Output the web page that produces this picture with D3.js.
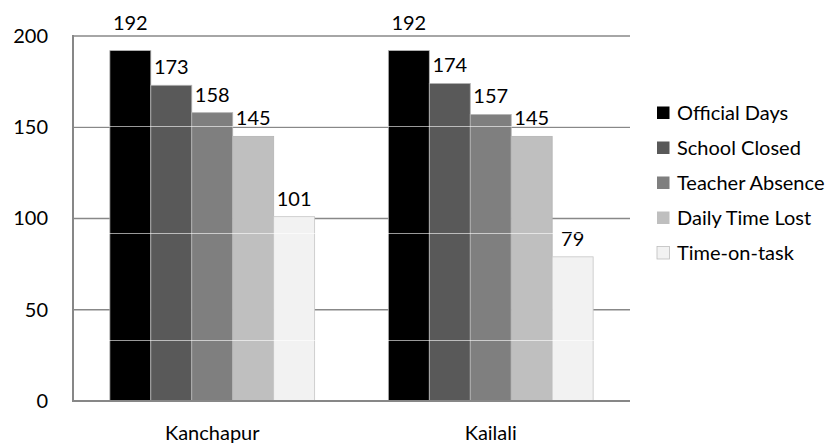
<!DOCTYPE html>
<html>
<head>
<meta charset="utf-8">
<script src="https://cdn.jsdelivr.net/npm/d3@7"></script>
<style>
  html, body { margin: 0; padding: 0; background: #fff; }
  svg { display: block; font-family: Lato, "Open Sans", sans-serif; }
</style>
</head>
<body>
<svg id="chart" width="829" height="444"></svg>
<script>
// Districts along the x axis
const districts = ["Kanchapur", "Kailali"];

// Series, in legend order
const seriesNames = ["Official Days", "School Closed", "Teacher Absence", "Daily Time Lost", "Time-on-task"];
const seriesColors = ["#000000", "#595959", "#7f7f7f", "#bfbfbf", "#f2f2f2"];

// Days per series, one value per district
const kanchapurDays = [192, 173, 158, 145, 101];
const kailaliDays   = [192, 174, 157, 145, 79];

// Value axis ticks
const yTicks = [0, 50, 100, 150, 200];

const districtValues = [kanchapurDays, kailaliDays];
const rows = districts.map((d, i) => ({
  district: d,
  values: seriesNames.map((s, j) => ({ series: s, idx: j, value: districtValues[i][j] }))
}));

const FONT = 20;
const svg = d3.select("#chart");
const plot = { left: 73, right: 630, top: 36, bottom: 401 };

const x0 = d3.scaleBand().domain(districts).range([plot.left, plot.right]).padding(0);
const x1 = d3.scaleBand().domain(seriesNames).range([0, x0.bandwidth()])
  .paddingInner(0).paddingOuter(0.9);
const y = d3.scaleLinear().domain([0, 200]).range([plot.bottom, plot.top]);
const color = d3.scaleOrdinal().domain(seriesNames).range(seriesColors);

// Horizontal gridlines
svg.append("g")
  .selectAll("line")
  .data(yTicks.filter(t => t > 0))
  .join("line")
  .attr("x1", plot.left).attr("x2", plot.right)
  .attr("y1", d => y(d)).attr("y2", d => y(d))
  .attr("stroke", "#888888").attr("stroke-width", 1.4);

// Y tick labels
const yAxis = d3.axisLeft(y).tickValues(yTicks).tickSize(0).tickPadding(25);
const yg = svg.append("g").attr("transform", `translate(${plot.left},0)`).call(yAxis);
yg.select(".domain").remove();
yg.selectAll("text")
  .attr("font-family", "Lato, 'Open Sans', sans-serif")
  .attr("font-size", FONT).attr("fill", "#000");

// Bars
const groups = svg.append("g")
  .selectAll("g")
  .data(rows)
  .join("g")
  .attr("transform", d => `translate(${x0(d.district)},0)`);

groups.selectAll("rect")
  .data(d => d.values)
  .join("rect")
  .attr("x", d => x1(d.series))
  .attr("y", d => y(d.value))
  .attr("width", x1.bandwidth())
  .attr("height", d => y(0) - y(d.value))
  .attr("fill", d => color(d.series))
  .attr("stroke", d => d.idx === 4 ? "#c6c6c6" : "#b4b4b4")
  .attr("stroke-width", 0.8);

// Faint light banding across the bars
const sheen = [150.7, 92.1, 33.4];
svg.append("g")
  .selectAll("line")
  .data(sheen)
  .join("line")
  .attr("x1", plot.left).attr("x2", plot.right)
  .attr("y1", d => Math.round(y(d)) + 0.5).attr("y2", d => Math.round(y(d)) + 0.5)
  .attr("stroke", "#ffffff").attr("stroke-opacity", 0.6).attr("stroke-width", 1);

// Axis lines
svg.append("line")
  .attr("x1", plot.left).attr("x2", plot.left)
  .attr("y1", y(200) - 1).attr("y2", y(0) + 1)
  .attr("stroke", "#878787").attr("stroke-width", 2);
svg.append("line")
  .attr("x1", plot.left - 1).attr("x2", plot.right)
  .attr("y1", y(0)).attr("y2", y(0))
  .attr("stroke", "#878787").attr("stroke-width", 2);

// Value labels above each bar; a label that would run into the top gridline sits above it
groups.selectAll("text.value")
  .data(d => d.values)
  .join("text")
  .attr("class", "value")
  .attr("x", d => x1(d.series) + x1.bandwidth() / 2)
  .attr("y", d => {
    const base = y(d.value) - 11;
    return (base - 14 < y(200) + 2 && base > y(200) - 4) ? y(200) - 6 : base;
  })
  .attr("text-anchor", "middle")
  .attr("font-size", FONT)
  .attr("fill", "#000")
  .text(d => d.value);

// District labels
svg.append("g")
  .selectAll("text")
  .data(districts)
  .join("text")
  .attr("x", d => x0(d) + x0.bandwidth() / 2)
  .attr("y", 440)
  .attr("text-anchor", "middle")
  .attr("font-size", FONT)
  .attr("fill", "#000")
  .text(d => d);

// Legend
const legend = svg.append("g").attr("transform", "translate(657,0)");
const legendRow = d3.scalePoint().domain(seriesNames).range([113, 253]);
const items = legend.selectAll("g")
  .data(seriesNames)
  .join("g")
  .attr("transform", d => `translate(0,${legendRow(d)})`);
items.append("rect")
  .attr("x", 0).attr("y", -6.5)
  .attr("width", 12.5).attr("height", 12.5)
  .attr("fill", d => color(d))
  .attr("stroke", (d, i) => i === 4 ? "#bdbdbd" : "none")
  .attr("stroke-width", 0.8);
items.append("text")
  .attr("x", 20).attr("y", 0).attr("dy", "0.36em")
  .attr("font-size", FONT)
  .attr("fill", "#000")
  .text(d => d);
</script>
</body>
</html>
